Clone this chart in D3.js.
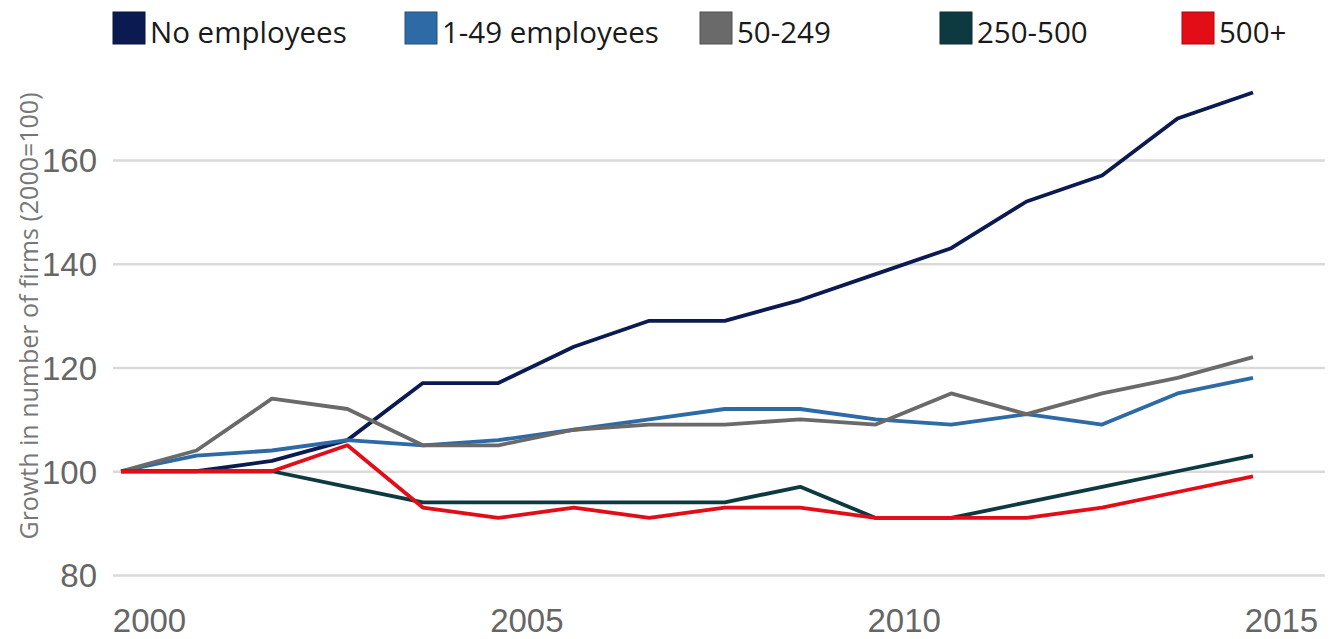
<!DOCTYPE html>
<html>
<head>
<meta charset="utf-8">
<script src="https://cdn.jsdelivr.net/npm/d3@7/dist/d3.min.js"></script>
<style>
  body { margin: 0; background: #fff; }
  svg { display: block; font-family: "Open Sans", sans-serif; }
</style>
</head>
<body>
<div id="chart"></div>
<script>
// chart data
const years = [2000, 2001, 2002, 2003, 2004, 2005, 2006, 2007, 2008, 2009, 2010, 2011, 2012, 2013, 2014, 2015];
const noEmployees = [100, 100, 102, 106, 117, 117, 124, 129, 129, 133, 138, 143, 152, 157, 168, 173];
const employees1to49 = [100, 103, 104, 106, 105, 106, 108, 110, 112, 112, 110, 109, 111, 109, 115, 118];
const employees50to249 = [100, 104, 114, 112, 105, 105, 108, 109, 109, 110, 109, 115, 111, 115, 118, 122];
const employees250to500 = [100, 100, 100, 97, 94, 94, 94, 94, 94, 97, 91, 91, 94, 97, 100, 103];
const employees500plus = [100, 100, 100, 105, 93, 91, 93, 91, 93, 93, 91, 91, 91, 93, 96, 99];

const seriesNames = ['No employees', '1-49 employees', '50-249', '250-500', '500+'];
const seriesColors = ['#0b1b52', '#2e6aa5', '#6a6a6a', '#0d3a40', '#e20d17'];
const yTicks = [80, 100, 120, 140, 160];
const xTicks = [2000, 2005, 2010, 2015];
const yTitle = 'Growth in number of firms (2000=100)';

const width = 1330;
const height = 639;

const series = [noEmployees, employees1to49, employees50to249, employees250to500, employees500plus]
  .map((values, i) => ({
    name: seriesNames[i],
    color: seriesColors[i],
    data: values.map((v, j) => ({ year: years[j], value: v }))
  }));

const svg = d3.select('#chart')
  .append('svg')
  .attr('width', width)
  .attr('height', height);

// scales
const xScale = d3.scaleLinear()
  .domain([2000, 2015])
  .range([121, 1253]);

const yScale = d3.scaleLinear()
  .domain([80, 160])
  .range([575, 160]);

// gridlines + y labels
const yAxis = svg.append('g')
  .attr('class', 'y-axis')
  .attr('transform', 'translate(113,0)')
  .call(d3.axisLeft(yScale).tickValues(yTicks).tickSize(-(1325 - 113)).tickPadding(16))
  .call(g => g.select('.domain').remove());
yAxis.selectAll('.tick line')
  .attr('stroke', '#dadada')
  .attr('stroke-width', 2.5);
yAxis.selectAll('.tick text')
  .attr('fill', '#666')
  .style('font-size', '33px')
  .attr('dy', '0.36em');

// x labels, shifted to the right of the data points like the original
const xAxis = svg.append('g')
  .attr('class', 'x-axis')
  .attr('transform', 'translate(0,600)')
  .call(d3.axisBottom(xScale).tickValues(xTicks).tickFormat(d3.format('d')).tickSize(0))
  .call(g => g.select('.domain').remove());
xAxis.selectAll('.tick text')
  .attr('fill', '#666')
  .attr('x', 28)
  .attr('y', 32)
  .attr('dy', 0)
  .style('font-size', '33px');

// y-axis title
svg.append('text')
  .attr('transform', 'translate(38,' + 316 + ') rotate(-90)')
  .attr('text-anchor', 'middle')
  .attr('fill', '#777')
  .style('font-size', '25px')
  .text(yTitle);

// lines
const line = d3.line()
  .x(d => xScale(d.year))
  .y(d => yScale(d.value));

svg.append('g')
  .selectAll('path')
  .data(series)
  .join('path')
  .attr('d', d => line(d.data))
  .attr('fill', 'none')
  .attr('stroke', d => d.color)
  .attr('stroke-width', 3.8)
  .attr('stroke-linejoin', 'round');

// legend
const legendX = [113, 405, 700, 940, 1182];
const legend = svg.append('g')
  .selectAll('g')
  .data(series)
  .join('g')
  .attr('transform', (d, i) => 'translate(' + legendX[i] + ',12)');

legend.append('rect')
  .attr('width', 32)
  .attr('height', 32)
  .attr('fill', d => d.color)
  .attr('stroke', d => d3.color(d.color).darker(0.8))
  .attr('stroke-width', 1);

legend.append('text')
  .attr('x', 37)
  .attr('y', 31)
  .attr('fill', '#1a1a1a')
  .style('font-size', '29.5px')
  .text(d => d.name);
</script>
</body>
</html>
